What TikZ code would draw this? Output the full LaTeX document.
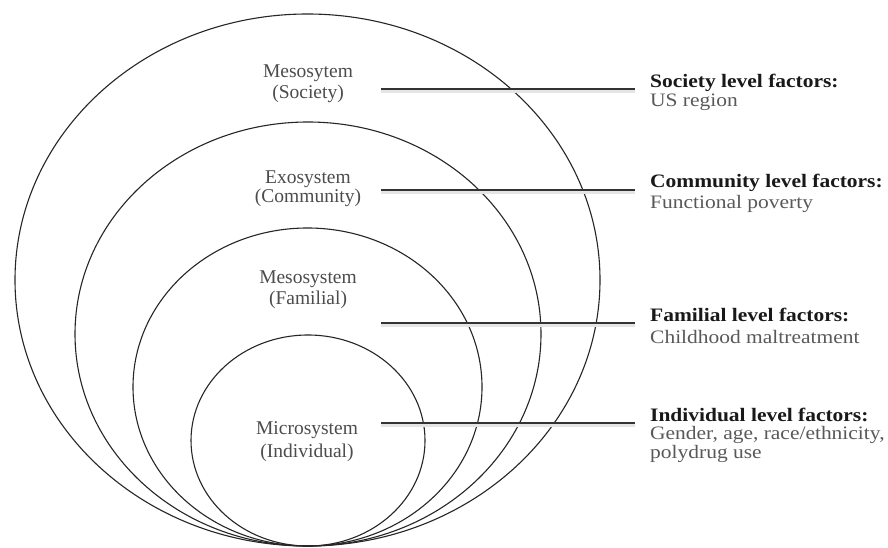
\documentclass[tikz,border=0pt]{standalone}
\usepackage{fontspec}
\setmainfont{Liberation Serif}
\newfontfamily\rfont[FakeStretch=1.13]{Liberation Serif}
\begin{document}
\begin{tikzpicture}[x=1pt,y=-1pt,
  ring/.style={draw=black!85, line width=1.1pt},
  lead/.style={draw=black!80, line width=2pt},
  leadshadow/.style={draw=black!10, line width=3pt},
  sysl/.style={anchor=base, text=black!70, font=\fontsize{19.5}{22}\selectfont, inner sep=0pt},
  facb/.style={anchor=base west, text=black!90, font=\rfont\bfseries\fontsize{19}{21}\selectfont, inner sep=0pt},
  facr/.style={anchor=base west, text=black!65, font=\rfont\fontsize{19}{21}\selectfont, inner sep=0pt}]
\useasboundingbox (0,0) rectangle (888,548);
\fill[white] (0,0) rectangle (888,548);

% nested ellipses tangent at the bottom
\draw[ring] (307.5,280) ellipse [x radius=292.5, y radius=266];
\draw[ring] (308,334) ellipse [x radius=233, y radius=212];
\draw[ring] (307.5,387) ellipse [x radius=174.5, y radius=159];
\draw[ring] (308,440.5) ellipse [x radius=117, y radius=105.5];

% leader lines
\coordinate (a1) at (381,89);  \coordinate (b1) at (635,89);
\coordinate (a2) at (381,190); \coordinate (b2) at (635,190);
\coordinate (a3) at (381,323); \coordinate (b3) at (635,323);
\coordinate (a4) at (381,423); \coordinate (b4) at (635,423);
\foreach \i in {1,2,3,4}{
  \draw[leadshadow] ([yshift=-2.5pt]a\i) -- ([yshift=-2.5pt]b\i);
  \draw[lead] (a\i) -- (b\i);
}

% system labels
\node[sysl] (s1a) at (308,78) {Mesosytem};
\node[sysl] (s1b) at (308,99) {(Society)};
\node[sysl] (s2a) at (308,183) {Exosystem};
\node[sysl] (s2b) at (308,202) {(Community)};
\node[sysl] (s3a) at (308,283) {Mesosystem};
\node[sysl] (s3b) at (308,304) {(Familial)};
\node[sysl] (s4a) at (307,434) {Microsystem};
\node[sysl] (s4b) at (307,457) {(Individual)};

% factor labels
\node[facb] (f1a) at (650,88) {Society level factors:};
\node[facr] (f1b) at (650,107) {US region};
\node[facb] (f2a) at (650,188) {Community level factors:};
\node[facr] (f2b) at (650,208) {Functional poverty};
\node[facb] (f3a) at (650,321) {Familial level factors:};
\node[facr] (f3b) at (650,343) {Childhood maltreatment};
\node[facb] (f4a) at (650,421) {Individual level factors:};
\node[facr] (f4b) at (650,439) {Gender, age, race/ethnicity,};
\node[facr] (f4c) at (650,458) {polydrug use};
\end{tikzpicture}
\end{document}
